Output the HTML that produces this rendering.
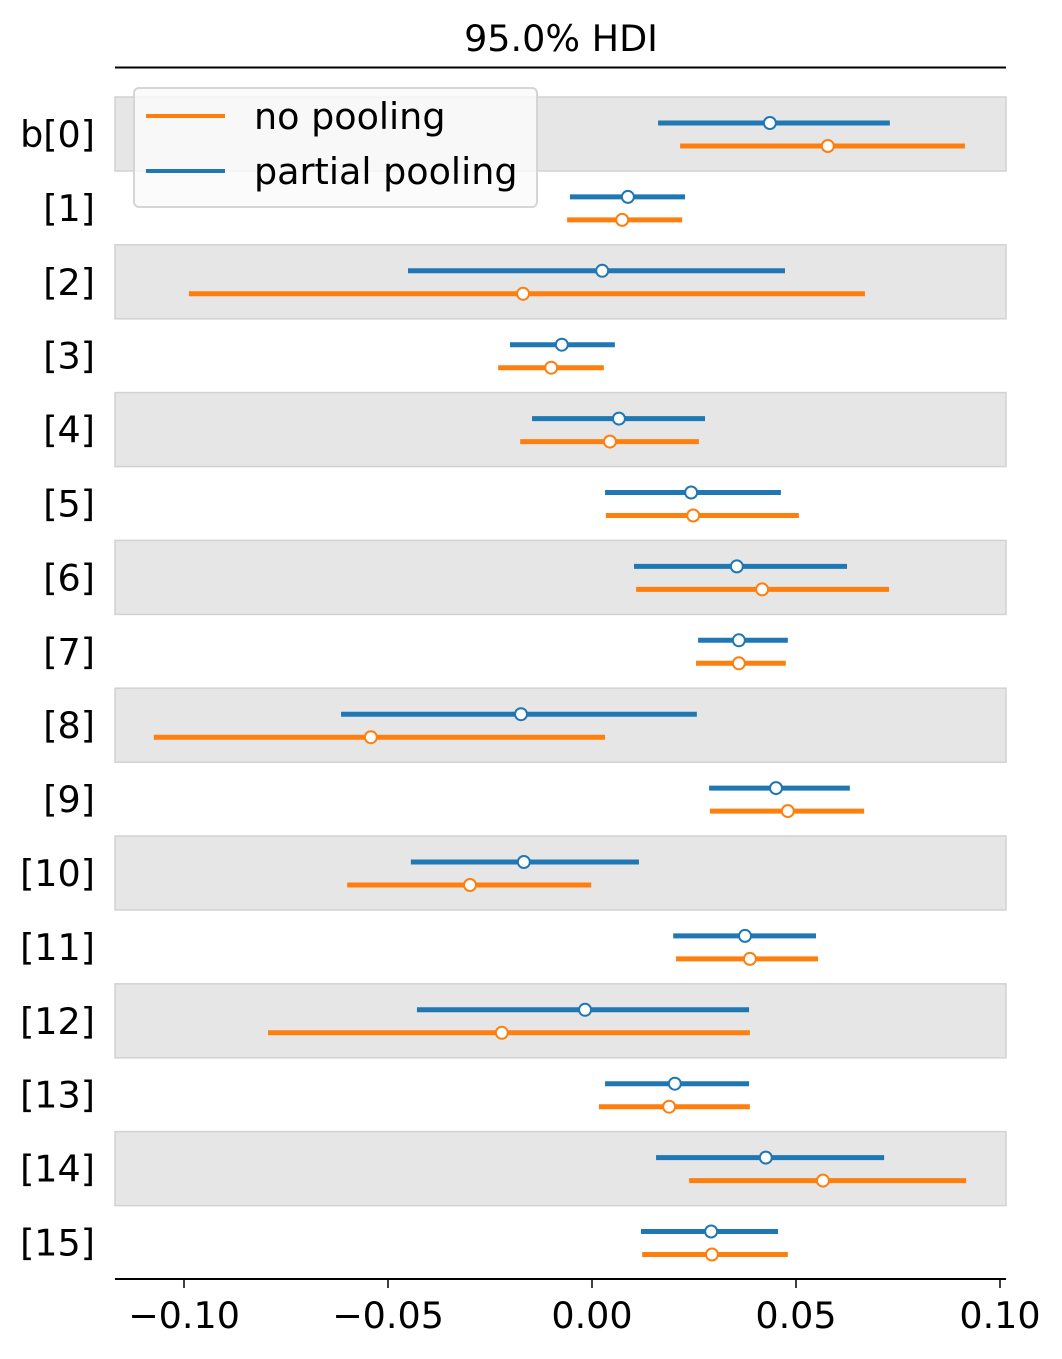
<!DOCTYPE html>
<html><head><meta charset="utf-8"><style>
body{margin:0;background:#fff;}
svg text{font-family:"DejaVu Sans","Liberation Sans",sans-serif;fill:#000;}
</style></head><body>
<svg id="chart" width="1062" height="1354" xmlns="http://www.w3.org/2000/svg">
<text x="561" y="51" font-size="36.5" text-anchor="middle">95.0% HDI</text>
<line x1="115" y1="67.5" x2="1006" y2="67.5" stroke="#000" stroke-width="2"/>
<g id="bands"></g>
<g id="marks"></g>
<g id="axis"></g>
<g>
<rect x="134" y="88" width="403" height="119" rx="5" fill="#fafafa" fill-opacity="0.85" stroke="#d5d5d5" stroke-width="2"/>
<line x1="146" y1="116" x2="225" y2="116" stroke="#ff7f0e" stroke-width="4"/>
<text x="254" y="129" font-size="36.5">no pooling</text>
<line x1="146" y1="171" x2="225" y2="171" stroke="#1f77b4" stroke-width="4"/>
<text x="254" y="184" font-size="36.5">partial pooling</text>
</g>
</svg>
<script>
const labels = ["b[0]","[1]","[2]","[3]","[4]","[5]","[6]","[7]","[8]","[9]","[10]","[11]","[12]","[13]","[14]","[15]"];
const partialLow  = [0.0162,-0.0054,-0.0451,-0.0201,-0.0147,0.0032,0.0103,0.0260,-0.0615,0.0287,-0.0444,0.0199,-0.0429,0.0032,0.0157,0.0120];
const partialHigh = [0.0730,0.0228,0.0473,0.0056,0.0277,0.0463,0.0625,0.0480,0.0257,0.0632,0.0115,0.0549,0.0385,0.0385,0.0716,0.0456];
const partialMid  = [0.0436,0.0088,0.0025,-0.0074,0.0066,0.0243,0.0355,0.0360,-0.0174,0.0451,-0.0167,0.0375,-0.0017,0.0203,0.0426,0.0292];
const noLow  = [0.0216,-0.0061,-0.0988,-0.0230,-0.0176,0.0034,0.0108,0.0255,-0.1074,0.0289,-0.0600,0.0206,-0.0794,0.0017,0.0238,0.0123];
const noHigh = [0.0914,0.0221,0.0669,0.0029,0.0262,0.0507,0.0728,0.0475,0.0032,0.0667,-0.0002,0.0554,0.0387,0.0387,0.0917,0.0480];
const noMid  = [0.0578,0.0074,-0.0169,-0.0100,0.0044,0.0248,0.0417,0.0360,-0.0542,0.0480,-0.0299,0.0387,-0.0221,0.0189,0.0566,0.0294];
const xTicks = [-0.10,-0.05,0.00,0.05,0.10];
const xTickLabels = ["\u22120.10","\u22120.05","0.00","0.05","0.10"];

const NS="http://www.w3.org/2000/svg";
function xs(v){return 592+v*4080;}
function ys(i){return 134+i*73.9;}
function mk(tag,attrs,parent){const e=document.createElementNS(NS,tag);for(const k in attrs)e.setAttribute(k,attrs[k]);parent.appendChild(e);return e;}
const bands=document.getElementById('bands'),marks=document.getElementById('marks'),axis=document.getElementById('axis');
labels.forEach((lab,i)=>{
  const c=ys(i);
  if(i%2===0){
    const b=mk('rect',{x:115,y:c-37,width:891,height:74,fill:'#e6e6e6',stroke:'#d2d2d2','stroke-width':1.5},bands);
    
    
  }
  const t=mk('text',{x:95,y:c+13,'font-size':36.5,'text-anchor':'end'},axis);
  t.textContent=lab;
  
  
  const series=[[partialLow,partialHigh,partialMid,'#1f77b4',-11,'partial'],[noLow,noHigh,noMid,'#ff7f0e',12,'no']];
  series.forEach(s=>{
    const y=c+s[4];
    const l=mk('line',{x1:xs(s[0][i]),x2:xs(s[1][i]),y1:y,y2:y,stroke:s[3],'stroke-width':5},marks);
    
    
    const p=mk('circle',{cx:xs(s[2][i]),cy:y,r:6,fill:'#fff',stroke:s[3],'stroke-width':2},marks);
    
    
  });
});
const ax=mk('line',{x1:115,x2:1006,y1:1279,y2:1279,stroke:'#000','stroke-width':2},axis);


xTicks.forEach((v,k)=>{
  const tk=mk('line',{x1:xs(v),x2:xs(v),y1:1279,y2:1288,stroke:'#000','stroke-width':1.5},axis);
  
  
  const tl=mk('text',{x:xs(v),y:1328,'font-size':36.5,'text-anchor':'middle'},axis);
  tl.textContent=xTickLabels[k];
  
  
});
</script>
</body></html>
